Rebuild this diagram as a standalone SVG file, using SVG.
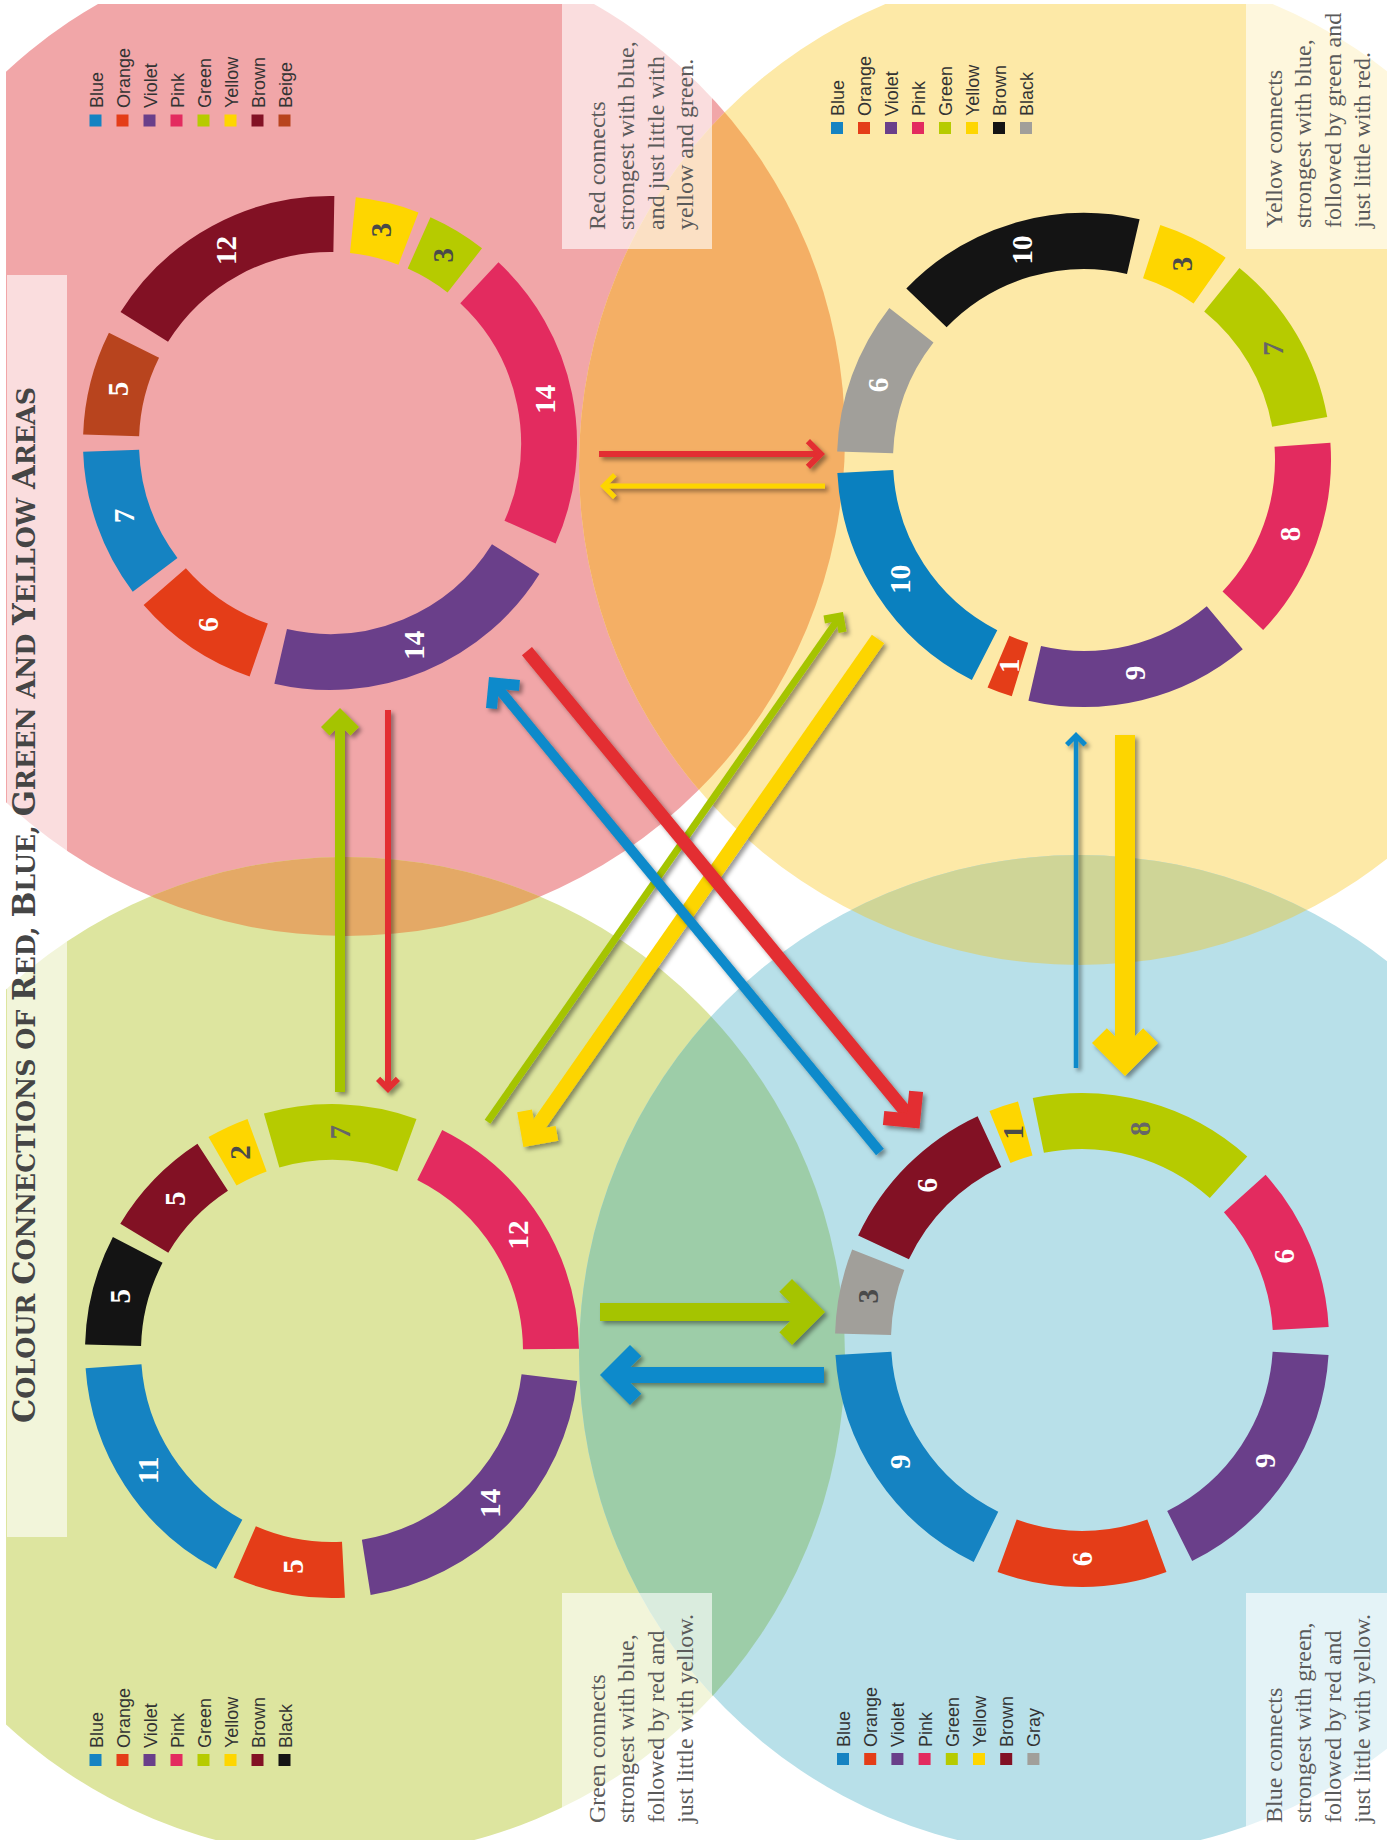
<svg xmlns="http://www.w3.org/2000/svg" width="1387" height="1840" viewBox="0 0 1387 1840">
<defs>
<style>
.seg{fill:none;stroke-width:56}
.lbl{font-family:"Liberation Serif","Times New Roman",serif;font-weight:bold;font-size:29px;text-anchor:middle}
.w{fill:#ffffff}.d{fill:#4a4a4a}.g{fill:#666666}
.leg{font-family:"Liberation Sans",Arial,sans-serif;font-size:18px;fill:#333333}
.note{font-family:"Liberation Serif","Times New Roman",serif;font-size:24px;fill:#5a5a5a}
.title{font-family:"DejaVu Serif",serif;font-weight:bold;fill:#454545}
.box{fill:#ffffff;fill-opacity:0.62}
</style>
<clipPath id="page"><rect x="6" y="4" width="1381" height="1836"/></clipPath>
<clipPath id="inRed"><circle cx="346" cy="437" r="499"/></clipPath>
<clipPath id="inBlue"><circle cx="1079" cy="1355" r="500"/></clipPath>
<filter id="sh" filterUnits="userSpaceOnUse" x="0" y="0" width="1387" height="1840"><feDropShadow dx="3" dy="3" stdDeviation="2" flood-color="#000000" flood-opacity="0.4"/></filter>
</defs>
<rect width="1387" height="1840" fill="#ffffff"/>
<g id="background" clip-path="url(#page)">
<circle cx="346" cy="437" r="499" fill="#f1a6a8"/>
<circle cx="1079" cy="465" r="500" fill="#fde9a7"/>
<circle cx="345" cy="1357" r="500" fill="#dde59f"/>
<circle cx="1079" cy="1355" r="500" fill="#b8e0e9"/>
<circle cx="1079" cy="465" r="500" fill="#f4af65" clip-path="url(#inRed)"/>
<circle cx="345" cy="1357" r="500" fill="#e4a966" clip-path="url(#inRed)"/>
<circle cx="1079" cy="465" r="500" fill="#cfd597" clip-path="url(#inBlue)"/>
<circle cx="345" cy="1357" r="500" fill="#9dcda8" clip-path="url(#inBlue)"/>
<rect class="box" x="7" y="275" width="60" height="1262" fill-opacity="0.6"/>
<rect class="box" x="562" y="4" width="150" height="245"/>
<rect class="box" x="1246" y="4" width="141" height="245"/>
<rect class="box" x="562" y="1593" width="150" height="247"/>
<rect class="box" x="1246" y="1593" width="141" height="247"/>
</g>
<g id="title">
<text class="title" transform="translate(35 1423) rotate(-90)" textLength="1036" lengthAdjust="spacingAndGlyphs"><tspan font-size="32">C</tspan><tspan font-size="26.5">OLOUR </tspan><tspan font-size="32">C</tspan><tspan font-size="26.5">ONNECTIONS OF </tspan><tspan font-size="32">R</tspan><tspan font-size="26.5">ED, </tspan><tspan font-size="32">B</tspan><tspan font-size="26.5">LUE, </tspan><tspan font-size="32">G</tspan><tspan font-size="26.5">REEN AND </tspan><tspan font-size="32">Y</tspan><tspan font-size="26.5">ELLOW </tspan><tspan font-size="32">A</tspan><tspan font-size="26.5">REAS</tspan></text>
</g>
<g id="ring-red">
<circle class="seg" cx="330" cy="443" r="219" pathLength="360" stroke-dasharray="24.5 400" transform="rotate(182 330 443)" stroke="#b8441e"/>
<circle class="seg" cx="330" cy="443" r="219" pathLength="360" stroke-dasharray="59 400" transform="rotate(212 330 443)" stroke="#821124"/>
<circle class="seg" cx="330" cy="443" r="219" pathLength="360" stroke-dasharray="15 400" transform="rotate(276 330 443)" stroke="#fed600"/>
<circle class="seg" cx="330" cy="443" r="219" pathLength="360" stroke-dasharray="14 400" transform="rotate(294 330 443)" stroke="#b6cb00"/>
<circle class="seg" cx="330" cy="443" r="219" pathLength="360" stroke-dasharray="71 400" transform="rotate(313 330 443)" stroke="#e32b5f"/>
<circle class="seg" cx="330" cy="443" r="219" pathLength="360" stroke-dasharray="71 400" transform="rotate(32 330 443)" stroke="#6a3f8a"/>
<circle class="seg" cx="330" cy="443" r="219" pathLength="360" stroke-dasharray="30 400" transform="rotate(109 330 443)" stroke="#e43d18"/>
<circle class="seg" cx="330" cy="443" r="219" pathLength="360" stroke-dasharray="35 400" transform="rotate(143 330 443)" stroke="#1583c2"/>
<g transform="translate(330 443) rotate(194.25) translate(219 0) rotate(-284.25)"><text class="lbl w" dy="0.35em">5</text></g>
<g transform="translate(330 443) rotate(241.5) translate(219 0) rotate(-331.5)"><text class="lbl w" dy="0.35em">12</text></g>
<g transform="translate(330 443) rotate(283.5) translate(219 0) rotate(-373.5)"><text class="lbl d" dy="0.35em">3</text></g>
<g transform="translate(330 443) rotate(301) translate(219 0) rotate(-391)"><text class="lbl d" dy="0.35em">3</text></g>
<g transform="translate(330 443) rotate(348.5) translate(219 0) rotate(-438.5)"><text class="lbl w" dy="0.35em">14</text></g>
<g transform="translate(330 443) rotate(67.5) translate(219 0) rotate(-157.5)"><text class="lbl w" dy="0.35em">14</text></g>
<g transform="translate(330 443) rotate(124) translate(219 0) rotate(-214)"><text class="lbl w" dy="0.35em">6</text></g>
<g transform="translate(330 443) rotate(160.5) translate(219 0) rotate(-250.5)"><text class="lbl w" dy="0.35em">7</text></g>
</g>
<g id="ring-yellow">
<circle class="seg" cx="1084" cy="460" r="219" pathLength="360" stroke-dasharray="36 400" transform="rotate(182 1084 460)" stroke="#a19f9a"/>
<circle class="seg" cx="1084" cy="460" r="219" pathLength="360" stroke-dasharray="59 400" transform="rotate(224 1084 460)" stroke="#141414"/>
<circle class="seg" cx="1084" cy="460" r="219" pathLength="360" stroke-dasharray="17 400" transform="rotate(288 1084 460)" stroke="#fed600"/>
<circle class="seg" cx="1084" cy="460" r="219" pathLength="360" stroke-dasharray="41 400" transform="rotate(309 1084 460)" stroke="#b6cb00"/>
<circle class="seg" cx="1084" cy="460" r="219" pathLength="360" stroke-dasharray="47.5 400" transform="rotate(356 1084 460)" stroke="#e32b5f"/>
<circle class="seg" cx="1084" cy="460" r="219" pathLength="360" stroke-dasharray="53 400" transform="rotate(50 1084 460)" stroke="#6a3f8a"/>
<circle class="seg" cx="1084" cy="460" r="219" pathLength="360" stroke-dasharray="6 400" transform="rotate(107 1084 460)" stroke="#e43d18"/>
<circle class="seg" cx="1084" cy="460" r="219" pathLength="360" stroke-dasharray="60 400" transform="rotate(117 1084 460)" stroke="#0a80bf"/>
<g transform="translate(1084 460) rotate(200) translate(219 0) rotate(-290)"><text class="lbl w" dy="0.35em">6</text></g>
<g transform="translate(1084 460) rotate(253.5) translate(219 0) rotate(-343.5)"><text class="lbl w" dy="0.35em">10</text></g>
<g transform="translate(1084 460) rotate(296.5) translate(219 0) rotate(-386.5)"><text class="lbl d" dy="0.35em">3</text></g>
<g transform="translate(1084 460) rotate(329.5) translate(219 0) rotate(-419.5)"><text class="lbl g" dy="0.35em">7</text></g>
<g transform="translate(1084 460) rotate(19.75) translate(219 0) rotate(-109.75)"><text class="lbl w" dy="0.35em">8</text></g>
<g transform="translate(1084 460) rotate(76.5) translate(219 0) rotate(-166.5)"><text class="lbl w" dy="0.35em">9</text></g>
<g transform="translate(1084 460) rotate(110) translate(219 0) rotate(-200)"><text class="lbl w" dy="0.35em">1</text></g>
<g transform="translate(1084 460) rotate(147) translate(219 0) rotate(-237)"><text class="lbl w" dy="0.35em">10</text></g>
</g>
<g id="ring-green">
<circle class="seg" cx="332" cy="1351" r="219" pathLength="360" stroke-dasharray="26 400" transform="rotate(181.5 332 1351)" stroke="#141414"/>
<circle class="seg" cx="332" cy="1351" r="219" pathLength="360" stroke-dasharray="26 400" transform="rotate(211 332 1351)" stroke="#821124"/>
<circle class="seg" cx="332" cy="1351" r="219" pathLength="360" stroke-dasharray="10 400" transform="rotate(240 332 1351)" stroke="#fed600"/>
<circle class="seg" cx="332" cy="1351" r="219" pathLength="360" stroke-dasharray="36 400" transform="rotate(254 332 1351)" stroke="#b6cb00"/>
<circle class="seg" cx="332" cy="1351" r="219" pathLength="360" stroke-dasharray="63 400" transform="rotate(296.5 332 1351)" stroke="#e32b5f"/>
<circle class="seg" cx="332" cy="1351" r="219" pathLength="360" stroke-dasharray="74 400" transform="rotate(7 332 1351)" stroke="#6a3f8a"/>
<circle class="seg" cx="332" cy="1351" r="219" pathLength="360" stroke-dasharray="26.5 400" transform="rotate(87 332 1351)" stroke="#e43d18"/>
<circle class="seg" cx="332" cy="1351" r="219" pathLength="360" stroke-dasharray="58 400" transform="rotate(118 332 1351)" stroke="#1583c2"/>
<g transform="translate(332 1351) rotate(194.5) translate(219 0) rotate(-284.5)"><text class="lbl w" dy="0.35em">5</text></g>
<g transform="translate(332 1351) rotate(224) translate(219 0) rotate(-314)"><text class="lbl w" dy="0.35em">5</text></g>
<g transform="translate(332 1351) rotate(245) translate(219 0) rotate(-335)"><text class="lbl d" dy="0.35em">2</text></g>
<g transform="translate(332 1351) rotate(272) translate(219 0) rotate(-362)"><text class="lbl g" dy="0.35em">7</text></g>
<g transform="translate(332 1351) rotate(328) translate(219 0) rotate(-418)"><text class="lbl w" dy="0.35em">12</text></g>
<g transform="translate(332 1351) rotate(44) translate(219 0) rotate(-134)"><text class="lbl w" dy="0.35em">14</text></g>
<g transform="translate(332 1351) rotate(100.25) translate(219 0) rotate(-190.25)"><text class="lbl w" dy="0.35em">5</text></g>
<g transform="translate(332 1351) rotate(147) translate(219 0) rotate(-237)"><text class="lbl w" dy="0.35em">11</text></g>
</g>
<g id="ring-blue">
<circle class="seg" cx="1082" cy="1340" r="219" pathLength="360" stroke-dasharray="20 400" transform="rotate(181.5 1082 1340)" stroke="#a19f9a"/>
<circle class="seg" cx="1082" cy="1340" r="219" pathLength="360" stroke-dasharray="40 400" transform="rotate(205 1082 1340)" stroke="#821124"/>
<circle class="seg" cx="1082" cy="1340" r="219" pathLength="360" stroke-dasharray="7 400" transform="rotate(248 1082 1340)" stroke="#fed600"/>
<circle class="seg" cx="1082" cy="1340" r="219" pathLength="360" stroke-dasharray="53.5 400" transform="rotate(258.5 1082 1340)" stroke="#b6cb00"/>
<circle class="seg" cx="1082" cy="1340" r="219" pathLength="360" stroke-dasharray="39 400" transform="rotate(318 1082 1340)" stroke="#e32b5f"/>
<circle class="seg" cx="1082" cy="1340" r="219" pathLength="360" stroke-dasharray="60 400" transform="rotate(3.5 1082 1340)" stroke="#6a3f8a"/>
<circle class="seg" cx="1082" cy="1340" r="219" pathLength="360" stroke-dasharray="40 400" transform="rotate(70 1082 1340)" stroke="#e43d18"/>
<circle class="seg" cx="1082" cy="1340" r="219" pathLength="360" stroke-dasharray="60.5 400" transform="rotate(116 1082 1340)" stroke="#1583c2"/>
<g transform="translate(1082 1340) rotate(191.5) translate(219 0) rotate(-281.5)"><text class="lbl d" dy="0.35em">3</text></g>
<g transform="translate(1082 1340) rotate(225) translate(219 0) rotate(-315)"><text class="lbl w" dy="0.35em">6</text></g>
<g transform="translate(1082 1340) rotate(251.5) translate(219 0) rotate(-341.5)"><text class="lbl d" dy="0.35em">1</text></g>
<g transform="translate(1082 1340) rotate(285.25) translate(219 0) rotate(-375.25)"><text class="lbl g" dy="0.35em">8</text></g>
<g transform="translate(1082 1340) rotate(337.5) translate(219 0) rotate(-427.5)"><text class="lbl w" dy="0.35em">6</text></g>
<g transform="translate(1082 1340) rotate(33.5) translate(219 0) rotate(-123.5)"><text class="lbl w" dy="0.35em">9</text></g>
<g transform="translate(1082 1340) rotate(90) translate(219 0) rotate(-180)"><text class="lbl w" dy="0.35em">6</text></g>
<g transform="translate(1082 1340) rotate(146.25) translate(219 0) rotate(-236.25)"><text class="lbl w" dy="0.35em">9</text></g>
</g>
<g id="legend-red">
<rect x="89.5" y="114.5" width="12" height="12" fill="#1583c2"/>
<rect x="116.5" y="114.5" width="12" height="12" fill="#e43d18"/>
<rect x="143.5" y="114.5" width="12" height="12" fill="#6a3f8a"/>
<rect x="170.5" y="114.5" width="12" height="12" fill="#e32b5f"/>
<rect x="197.5" y="114.5" width="12" height="12" fill="#b6cb00"/>
<rect x="224.5" y="114.5" width="12" height="12" fill="#fed600"/>
<rect x="251.5" y="114.5" width="12" height="12" fill="#821124"/>
<rect x="278.5" y="114.5" width="12" height="12" fill="#b8441e"/>
<text class="leg" transform="rotate(-90)"><tspan x="-108" y="102.5">Blue</tspan><tspan x="-108" y="129.5">Orange</tspan><tspan x="-108" y="156.5">Violet</tspan><tspan x="-108" y="183.5">Pink</tspan><tspan x="-108" y="210.5">Green</tspan><tspan x="-108" y="237.5">Yellow</tspan><tspan x="-108" y="264.5">Brown</tspan><tspan x="-108" y="291.5">Beige</tspan></text>
</g>
<g id="legend-yellow">
<rect x="831" y="122" width="12" height="12" fill="#1583c2"/>
<rect x="858" y="122" width="12" height="12" fill="#e43d18"/>
<rect x="885" y="122" width="12" height="12" fill="#6a3f8a"/>
<rect x="912" y="122" width="12" height="12" fill="#e32b5f"/>
<rect x="939" y="122" width="12" height="12" fill="#b6cb00"/>
<rect x="966" y="122" width="12" height="12" fill="#fed600"/>
<rect x="993" y="122" width="12" height="12" fill="#141414"/>
<rect x="1020" y="122" width="12" height="12" fill="#a19f9a"/>
<text class="leg" transform="rotate(-90)"><tspan x="-116" y="844">Blue</tspan><tspan x="-116" y="871">Orange</tspan><tspan x="-116" y="898">Violet</tspan><tspan x="-116" y="925">Pink</tspan><tspan x="-116" y="952">Green</tspan><tspan x="-116" y="979">Yellow</tspan><tspan x="-116" y="1006">Brown</tspan><tspan x="-116" y="1033">Black</tspan></text>
</g>
<g id="legend-green">
<rect x="89.5" y="1754" width="12" height="12" fill="#1583c2"/>
<rect x="116.5" y="1754" width="12" height="12" fill="#e43d18"/>
<rect x="143.5" y="1754" width="12" height="12" fill="#6a3f8a"/>
<rect x="170.5" y="1754" width="12" height="12" fill="#e32b5f"/>
<rect x="197.5" y="1754" width="12" height="12" fill="#b6cb00"/>
<rect x="224.5" y="1754" width="12" height="12" fill="#fed600"/>
<rect x="251.5" y="1754" width="12" height="12" fill="#821124"/>
<rect x="278.5" y="1754" width="12" height="12" fill="#141414"/>
<text class="leg" transform="rotate(-90)"><tspan x="-1748" y="102.5">Blue</tspan><tspan x="-1748" y="129.5">Orange</tspan><tspan x="-1748" y="156.5">Violet</tspan><tspan x="-1748" y="183.5">Pink</tspan><tspan x="-1748" y="210.5">Green</tspan><tspan x="-1748" y="237.5">Yellow</tspan><tspan x="-1748" y="264.5">Brown</tspan><tspan x="-1748" y="291.5">Black</tspan></text>
</g>
<g id="legend-blue">
<rect x="837" y="1753" width="12" height="12" fill="#1583c2"/>
<rect x="864.2" y="1753" width="12" height="12" fill="#e43d18"/>
<rect x="891.4" y="1753" width="12" height="12" fill="#6a3f8a"/>
<rect x="918.6" y="1753" width="12" height="12" fill="#e32b5f"/>
<rect x="945.8" y="1753" width="12" height="12" fill="#b6cb00"/>
<rect x="973" y="1753" width="12" height="12" fill="#fed600"/>
<rect x="1000.2" y="1753" width="12" height="12" fill="#821124"/>
<rect x="1027.4" y="1753" width="12" height="12" fill="#a19f9a"/>
<text class="leg" transform="rotate(-90)"><tspan x="-1747" y="850">Blue</tspan><tspan x="-1747" y="877.2">Orange</tspan><tspan x="-1747" y="904.4">Violet</tspan><tspan x="-1747" y="931.6">Pink</tspan><tspan x="-1747" y="958.8">Green</tspan><tspan x="-1747" y="986">Yellow</tspan><tspan x="-1747" y="1013.2">Brown</tspan><tspan x="-1747" y="1040.4">Gray</tspan></text>
</g>
<g id="note-red"><text class="note" transform="rotate(-90)"><tspan x="-230" y="604.5">Red connects</tspan><tspan x="-230" y="634">strongest with blue,</tspan><tspan x="-230" y="663.5">and just little with</tspan><tspan x="-230" y="693">yellow and green.</tspan></text></g>
<g id="note-yellow"><text class="note" transform="rotate(-90)"><tspan x="-228" y="1281.5">Yellow connects</tspan><tspan x="-228" y="1311">strongest with blue,</tspan><tspan x="-228" y="1340.5">followed by green and</tspan><tspan x="-228" y="1370">just little with red.</tspan></text></g>
<g id="note-green"><text class="note" transform="rotate(-90)"><tspan x="-1823" y="604.5">Green connects</tspan><tspan x="-1823" y="634">strongest with blue,</tspan><tspan x="-1823" y="663.5">followed by red and</tspan><tspan x="-1823" y="693">just little with yellow.</tspan></text></g>
<g id="note-blue"><text class="note" transform="rotate(-90)"><tspan x="-1823" y="1281.5">Blue connects</tspan><tspan x="-1823" y="1311">strongest with green,</tspan><tspan x="-1823" y="1340.5">followed by red and</tspan><tspan x="-1823" y="1370">just little with yellow.</tspan></text></g>
<g id="connectors">
<g filter="url(#sh)"><g transform="translate(825 454)" fill="#e32e30"><rect x="-226" y="-3" width="219.5" height="6"/><path d="M0,0L-15,-15L-19.2,-10.8L-8.5,0L-19.2,10.8L-15,15Z"/></g></g>
<g filter="url(#sh)"><g transform="translate(600 486) rotate(180)" fill="#fdd500"><rect x="-225" y="-2.5" width="219.9" height="5"/><path d="M0,0L-13,-13L-16.5,-9.5L-7.1,0L-16.5,9.5L-13,13Z"/></g></g>
<g filter="url(#sh)"><g transform="translate(340 708) rotate(-90)" fill="#a5c400"><rect x="-384" y="-5" width="369" height="10"/><path d="M0,0L-19,-19L-27.5,-10.5L-17,0L-27.5,10.5L-19,19Z"/></g></g>
<g filter="url(#sh)"><g transform="translate(388 1093) rotate(90)" fill="#e32e30"><rect x="-383" y="-3" width="376.5" height="6"/><path d="M0,0L-12,-12L-16.2,-7.8L-8.5,0L-16.2,7.8L-12,12Z"/></g></g>
<g filter="url(#sh)"><g transform="translate(1076 732) rotate(-90)" fill="#0a8acb"><rect x="-336" y="-2.25" width="330.9" height="4.5"/><path d="M0,0L-11,-11L-14.5,-7.5L-7.1,0L-14.5,7.5L-11,11Z"/></g></g>
<g filter="url(#sh)"><g transform="translate(1125 1076) rotate(90)" fill="#fdd500"><rect x="-341" y="-10" width="313.3" height="20"/><path d="M0,0L-33,-33L-47.85,-18.15L-29.7,0L-47.85,18.15L-33,33Z"/></g></g>
<g filter="url(#sh)"><g transform="translate(825 1312)" fill="#a5c400"><rect x="-225" y="-9" width="201.5" height="18"/><path d="M0,0L-33,-33L-45.7,-20.3L-25.5,0L-45.7,20.3L-33,33Z"/></g></g>
<g filter="url(#sh)"><g transform="translate(600 1375) rotate(180)" fill="#0a8acb"><rect x="-224" y="-8" width="203.4" height="16"/><path d="M0,0L-30,-30L-41.3,-18.7L-22.6,0L-41.3,18.7L-30,30Z"/></g></g>
<g filter="url(#sh)"><g transform="translate(843 612) rotate(-55.11)" fill="#a5c400"><rect x="-621.4" y="-3.5" width="612.1" height="7"/><path d="M0,0L-14,-14L-19.7,-8.3L-11.3,0L-19.7,8.3L-14,14Z"/></g></g>
<g filter="url(#sh)"><g transform="translate(523.4 1147) rotate(124.92)" fill="#fdd500"><rect x="-619.5" y="-7.5" width="600.3" height="15"/><path d="M0,0L-25,-25L-35.6,-14.4L-21.2,0L-35.6,14.4L-25,25Z"/></g></g>
<g filter="url(#sh)"><g transform="translate(489 677) rotate(230.54)" fill="#0a8acb"><rect x="-615.2" y="-5" width="601.6" height="10"/><path d="M0,0L-22,-22L-29.8,-14.2L-15.6,0L-29.8,14.2L-22,22Z"/></g></g>
<g filter="url(#sh)"><g transform="translate(919.5 1128.6) rotate(50.58)" fill="#e32e30"><rect x="-618.2" y="-6.5" width="600.4" height="13"/><path d="M0,0L-26,-26L-35.9,-16.1L-19.8,0L-35.9,16.1L-26,26Z"/></g></g>
</g>
</svg>
